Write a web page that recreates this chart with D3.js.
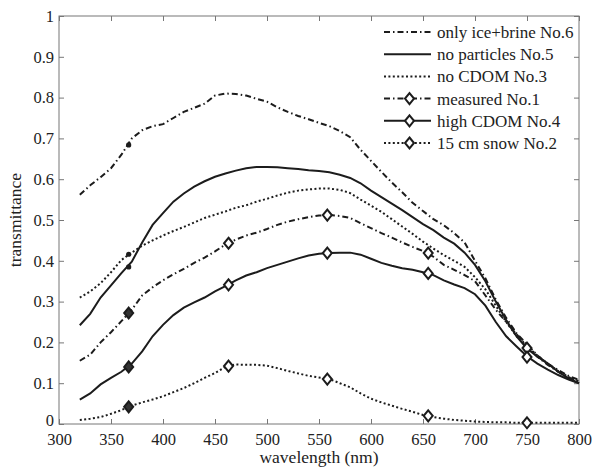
<!DOCTYPE html>
<html>
<head>
<meta charset="utf-8">
<script src="https://cdn.jsdelivr.net/npm/d3@7"></script>
<style>
body { margin: 0; background: #fff; }
svg { display: block; }
</style>
</head>
<body>
<svg id="chart" width="600" height="475"></svg>
<script>
const wavelengths = [320,330,340,350,360,370,380,390,400,410,420,430,440,450,460,470,480,490,500,510,520,530,540,550,560,570,580,590,600,610,620,630,640,650,660,670,680,690,700,710,720,730,740,750,760,770,780,790,800];

const iceBrineNo6 = [0.562,0.585,0.605,0.627,0.66,0.70,0.72,0.73,0.735,0.75,0.765,0.775,0.785,0.805,0.81,0.809,0.805,0.797,0.79,0.776,0.765,0.755,0.747,0.738,0.73,0.718,0.703,0.672,0.645,0.618,0.592,0.568,0.542,0.522,0.502,0.487,0.468,0.445,0.40,0.357,0.305,0.26,0.222,0.195,0.168,0.148,0.132,0.118,0.108];
const noParticlesNo5 = [0.242,0.27,0.31,0.34,0.37,0.398,0.445,0.488,0.517,0.545,0.565,0.582,0.595,0.606,0.614,0.621,0.627,0.63,0.63,0.629,0.627,0.625,0.622,0.62,0.617,0.611,0.603,0.59,0.572,0.556,0.54,0.524,0.507,0.49,0.475,0.457,0.442,0.42,0.39,0.35,0.30,0.255,0.215,0.185,0.165,0.148,0.128,0.112,0.1];
const noCdomNo3 = [0.31,0.325,0.345,0.372,0.402,0.42,0.437,0.45,0.462,0.473,0.483,0.494,0.505,0.513,0.521,0.53,0.536,0.545,0.552,0.56,0.567,0.572,0.575,0.577,0.577,0.574,0.566,0.55,0.535,0.52,0.502,0.484,0.466,0.447,0.43,0.414,0.4,0.385,0.36,0.33,0.29,0.25,0.215,0.19,0.168,0.148,0.13,0.115,0.105];
const measuredNo1 = [0.155,0.17,0.2,0.225,0.252,0.28,0.315,0.335,0.352,0.367,0.38,0.395,0.408,0.423,0.44,0.452,0.462,0.469,0.478,0.488,0.496,0.502,0.507,0.511,0.512,0.51,0.505,0.492,0.48,0.468,0.457,0.445,0.434,0.424,0.41,0.39,0.378,0.365,0.35,0.315,0.28,0.25,0.22,0.19,0.165,0.145,0.128,0.114,0.104];
const highCdomNo4 = [0.06,0.075,0.097,0.113,0.128,0.148,0.178,0.215,0.243,0.267,0.285,0.298,0.31,0.325,0.338,0.352,0.364,0.372,0.382,0.39,0.398,0.406,0.413,0.417,0.419,0.42,0.42,0.415,0.405,0.395,0.388,0.382,0.378,0.372,0.365,0.352,0.342,0.333,0.318,0.29,0.25,0.215,0.19,0.166,0.148,0.133,0.12,0.109,0.1];
const snowNo2 = [0.01,0.013,0.017,0.025,0.034,0.045,0.053,0.06,0.068,0.078,0.088,0.1,0.113,0.125,0.14,0.146,0.145,0.145,0.143,0.137,0.13,0.124,0.118,0.114,0.11,0.1,0.09,0.075,0.062,0.053,0.045,0.037,0.03,0.022,0.017,0.013,0.01,0.008,0.006,0.005,0.004,0.004,0.003,0.003,0.003,0.003,0.003,0.003,0.003];

const markerWavelengths = [367, 463, 558, 655, 750];
const measuredNo1Markers = [0.272, 0.443, 0.512, 0.419, 0.186];
const highCdomNo4Markers = [0.14, 0.341, 0.419, 0.369, 0.164];
const snowNo2Markers = [0.042, 0.142, 0.11, 0.02, 0.003];
const dotWavelength = 367;
const dotValues = [0.684, 0.385, 0.416]; // No.6, No.5, No.3

const legendLabels = ["only ice+brine No.6","no particles No.5","no CDOM No.3","measured No.1","high CDOM No.4","15 cm snow No.2"];
const xTicks = [300,350,400,450,500,550,600,650,700,750,800];
const yTicks = [0,0.1,0.2,0.3,0.4,0.5,0.6,0.7,0.8,0.9,1];

const FONT = "'Liberation Serif', 'Times New Roman', Tinos, 'DejaVu Serif', serif";
const DASHDOT = "6,3,1.5,3";
const DOTTED = "2,2.4";

const series = [
  {name: legendLabels[0], values: iceBrineNo6, dash: DASHDOT, markers: null},
  {name: legendLabels[1], values: noParticlesNo5, dash: null, markers: null},
  {name: legendLabels[2], values: noCdomNo3, dash: DOTTED, markers: null},
  {name: legendLabels[3], values: measuredNo1, dash: DASHDOT, markers: measuredNo1Markers},
  {name: legendLabels[4], values: highCdomNo4, dash: null, markers: highCdomNo4Markers},
  {name: legendLabels[5], values: snowNo2, dash: DOTTED, markers: snowNo2Markers}
];

const svg = d3.select("#chart").attr("font-family", FONT);
const L = 59, R = 579, T = 16, B = 424;
const x = d3.scaleLinear().domain([300, 800]).range([L, R]);
const y = d3.scaleLinear().domain([0, 1]).range([B, T]);

const axisColor = "#777";
const lineColor = "#1c1c1c";
const textColor = "#222";
const tickLen = 5;

svg.append("rect").attr("x", L).attr("y", T).attr("width", R - L).attr("height", B - T)
  .attr("fill", "none").attr("stroke", axisColor).attr("stroke-width", 1);

const xAxisB = d3.axisBottom(x).tickValues(xTicks).tickSize(-tickLen).tickPadding(10).tickFormat(d3.format("d"));
const gxb = svg.append("g").attr("transform", `translate(0,${B})`).call(xAxisB);
const xAxisT = d3.axisTop(x).tickValues(xTicks).tickSize(-tickLen).tickFormat("");
const gxt = svg.append("g").attr("transform", `translate(0,${T})`).call(xAxisT);
const yAxisL = d3.axisLeft(y).tickValues(yTicks).tickSize(-tickLen).tickPadding(5).tickFormat(d => d === 0 ? "0" : d === 1 ? "1" : d3.format(".1f")(d));
const gyl = svg.append("g").attr("transform", `translate(${L},0)`).call(yAxisL);
const yAxisR = d3.axisRight(y).tickValues(yTicks).tickSize(-tickLen).tickFormat("");
const gyr = svg.append("g").attr("transform", `translate(${R},0)`).call(yAxisR);

[gxb, gxt, gyl, gyr].forEach(g => {
  g.attr("font-family", FONT).attr("font-size", 16);
  g.select(".domain").remove();
  g.selectAll(".tick line").attr("stroke", axisColor);
  g.selectAll(".tick text").attr("font-family", FONT).attr("font-size", 16.5).attr("fill", textColor);
});
gxb.selectAll(".tick text").attr("dy", "0.66em");
gyl.selectAll(".tick text").filter(d => d === 0).attr("dy", "0.1em");

svg.append("text").attr("x", (L + R) / 2).attr("y", 463).attr("text-anchor", "middle")
  .attr("font-family", FONT).attr("font-size", 17.5).attr("fill", textColor).text("wavelength (nm)");
svg.append("text").attr("transform", `translate(21,${(T + B) / 2}) rotate(-90)`).attr("text-anchor", "middle")
  .attr("font-family", FONT).attr("font-size", 17.5).attr("fill", textColor).text("transmittance");

const line = d3.line().x((d, i) => x(wavelengths[i])).y(d => y(d));
const diamond = (cx, cy, w, h) => `M${cx},${cy - h}L${cx + w},${cy}L${cx},${cy + h}L${cx - w},${cy}Z`;

series.forEach(s => {
  svg.append("path").datum(s.values).attr("d", line)
    .attr("fill", "none").attr("stroke", lineColor).attr("stroke-width", 2)
    .attr("stroke-dasharray", s.dash);
});

dotValues.forEach(v => {
  svg.append("circle").attr("cx", x(dotWavelength)).attr("cy", y(v)).attr("r", 2.6).attr("fill", lineColor);
});

series.filter(s => s.markers).forEach(s => {
  s.markers.forEach((v, i) => {
    svg.append("path").attr("d", diamond(x(markerWavelengths[i]), y(v), 4.5, 5.5))
      .attr("fill", i === 0 ? "#333" : "#fff").attr("stroke", lineColor).attr("stroke-width", 2);
  });
});

const legX0 = 384, legX1 = 431, legTextX = 437, legY0 = 32, legDy = 22.2;
series.forEach((s, i) => {
  const yy = legY0 + i * legDy;
  svg.append("line").attr("x1", legX0).attr("x2", legX1).attr("y1", yy).attr("y2", yy)
    .attr("stroke", lineColor).attr("stroke-width", 2).attr("stroke-dasharray", s.dash);
  if (s.markers) {
    svg.append("path").attr("d", diamond((legX0 + legX1) / 2 + 2, yy, 4.5, 5.5))
      .attr("fill", "#fff").attr("stroke", lineColor).attr("stroke-width", 2);
  }
  svg.append("text").attr("x", legTextX).attr("y", yy).attr("dy", "0.35em")
    .attr("font-family", FONT).attr("font-size", 17).attr("fill", textColor).text(s.name);
});
</script>
</body>
</html>
